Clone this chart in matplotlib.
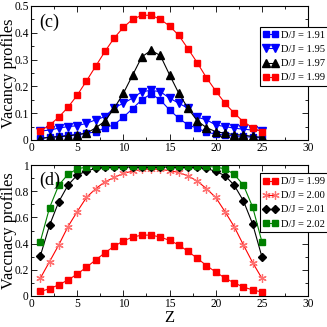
import matplotlib
matplotlib.use('Agg')
import matplotlib.pyplot as plt
from matplotlib.ticker import MultipleLocator

plt.rcParams['font.family'] = ['Liberation Serif', 'DejaVu Serif']

# layer index
z = list(range(1, 26))

# panel (c)
dj_191 = [0.007, 0.01, 0.013, 0.018, 0.02, 0.025, 0.03, 0.045, 0.057, 0.085,
          0.117, 0.15, 0.172, 0.149, 0.112, 0.081, 0.056, 0.044, 0.029, 0.022,
          0.018, 0.015, 0.013, 0.01, 0.008]
dj_195 = [0.033, 0.037, 0.044, 0.05, 0.053, 0.062, 0.075, 0.087, 0.12, 0.137,
          0.156, 0.18, 0.185, 0.18, 0.156, 0.137, 0.118, 0.085, 0.075, 0.056,
          0.05, 0.044, 0.04, 0.037, 0.035]
dj_197 = [0.005, 0.01, 0.012, 0.015, 0.02, 0.025, 0.045, 0.07, 0.118, 0.174,
          0.242, 0.31, 0.334, 0.315, 0.243, 0.174, 0.118, 0.071, 0.046, 0.031,
          0.025, 0.02, 0.018, 0.013, 0.01]
dj_199 = [0.034, 0.055, 0.085, 0.122, 0.167, 0.22, 0.275, 0.33, 0.38, 0.42,
          0.45, 0.465, 0.465, 0.45, 0.425, 0.39, 0.34, 0.288, 0.232, 0.183,
          0.137, 0.1, 0.068, 0.046, 0.03]

# panel (d)
dj_200 = [0.135, 0.262, 0.39, 0.53, 0.645, 0.753, 0.82, 0.872, 0.906, 0.937,
          0.954, 0.967, 0.97, 0.967, 0.958, 0.944, 0.918, 0.878, 0.82, 0.753,
          0.645, 0.53, 0.39, 0.255, 0.135]
dj_201 = [0.305, 0.54, 0.72, 0.847, 0.924, 0.955, 0.975, 0.982, 0.985, 0.985,
          0.985, 0.985, 0.985, 0.985, 0.985, 0.985, 0.985, 0.982, 0.975, 0.952,
          0.92, 0.847, 0.727, 0.55, 0.3]
dj_202 = [0.415, 0.674, 0.847, 0.93, 0.972, 0.985, 0.99, 0.992, 0.992, 0.992,
          0.992, 0.992, 0.992, 0.992, 0.992, 0.992, 0.992, 0.992, 0.99, 0.985,
          0.972, 0.93, 0.847, 0.68, 0.415]

fig = plt.figure(figsize=(3.27, 3.27), dpi=100)
ax1 = fig.add_axes([0.095, 0.572, 0.847, 0.41])
ax2 = fig.add_axes([0.095, 0.095, 0.847, 0.40])

lw = 0.8
ax1.plot(z, dj_191, color='blue', marker='s', ms=5, lw=lw, label='D/J = 1.91')
ax1.plot(z, dj_195, color='blue', marker='v', ms=6, lw=lw, label='D/J = 1.95')
ax1.plot(z, dj_197, color='black', marker='^', ms=6, lw=lw, label='D/J = 1.97')
ax1.plot(z, dj_199, color='red', marker='s', ms=5, lw=lw, label='D/J = 1.99')

ax2.plot(z, dj_199, color='red', marker='s', ms=5, lw=lw, label='D/J = 1.99')
ax2.plot(z, dj_200, color='red', marker=(6, 2, 0), ms=6, mec='#ff7070',
         mew=0.9, lw=lw, label='D/J = 2.00')
ax2.plot(z, dj_201, color='black', marker='D', ms=4.5, lw=lw, label='D/J = 2.01')
ax2.plot(z, dj_202, color='green', marker='s', ms=5, lw=lw, label='D/J = 2.02')

for ax, ymax, step, legy in [(ax1, 0.5, 0.1, 0.843), (ax2, 1.0, 0.2, 0.939)]:
    ax.set_xlim(0, 30)
    ax.set_ylim(0, ymax)
    ax.xaxis.set_major_locator(MultipleLocator(5))
    ax.xaxis.set_minor_locator(MultipleLocator(2.5))
    ax.yaxis.set_major_locator(MultipleLocator(step))
    ax.yaxis.set_minor_locator(MultipleLocator(step / 2))
    ax.tick_params(which='both', direction='in', top=True, right=True,
                   labelsize=8.3, pad=1.6)
    ax.tick_params(which='major', length=4, width=0.6)
    ax.tick_params(which='minor', length=2, width=0.6)
    for s in ax.spines.values():
        s.set_linewidth(0.8)
    leg = ax.legend(loc='upper left', bbox_to_anchor=(0.825, legy),
                    borderaxespad=0, fontsize=7.6, numpoints=2,
                    handlelength=1.4, handletextpad=0.3, labelspacing=0.45,
                    borderpad=0.35, fancybox=False, framealpha=1,
                    edgecolor='black')
    leg.get_frame().set_linewidth(0.8)

ax1.yaxis.set_major_formatter(plt.FuncFormatter(lambda v, p: '0' if v == 0 else f'{v:.1f}'))
ax2.yaxis.set_major_formatter(plt.FuncFormatter(
    lambda v, p: '0' if v == 0 else ('1' if abs(v - 1) < 1e-9 else f'{v:.1f}')))

ax1.set_ylabel('Vacancy profiles', fontsize=11.8)
ax2.set_ylabel('Vaccnacy profiles', fontsize=11.8)
ax1.yaxis.set_label_coords(-0.052, 0.5)
ax2.yaxis.set_label_coords(-0.052, 0.5)
ax2.set_xlabel('Z', fontsize=12, labelpad=0)

ax1.text(0.03, 0.88, '(c)', transform=ax1.transAxes, fontsize=13, va='center')
ax2.text(0.03, 0.88, '(d)', transform=ax2.transAxes, fontsize=13, va='center')

fig.savefig('out.png', dpi=100)
